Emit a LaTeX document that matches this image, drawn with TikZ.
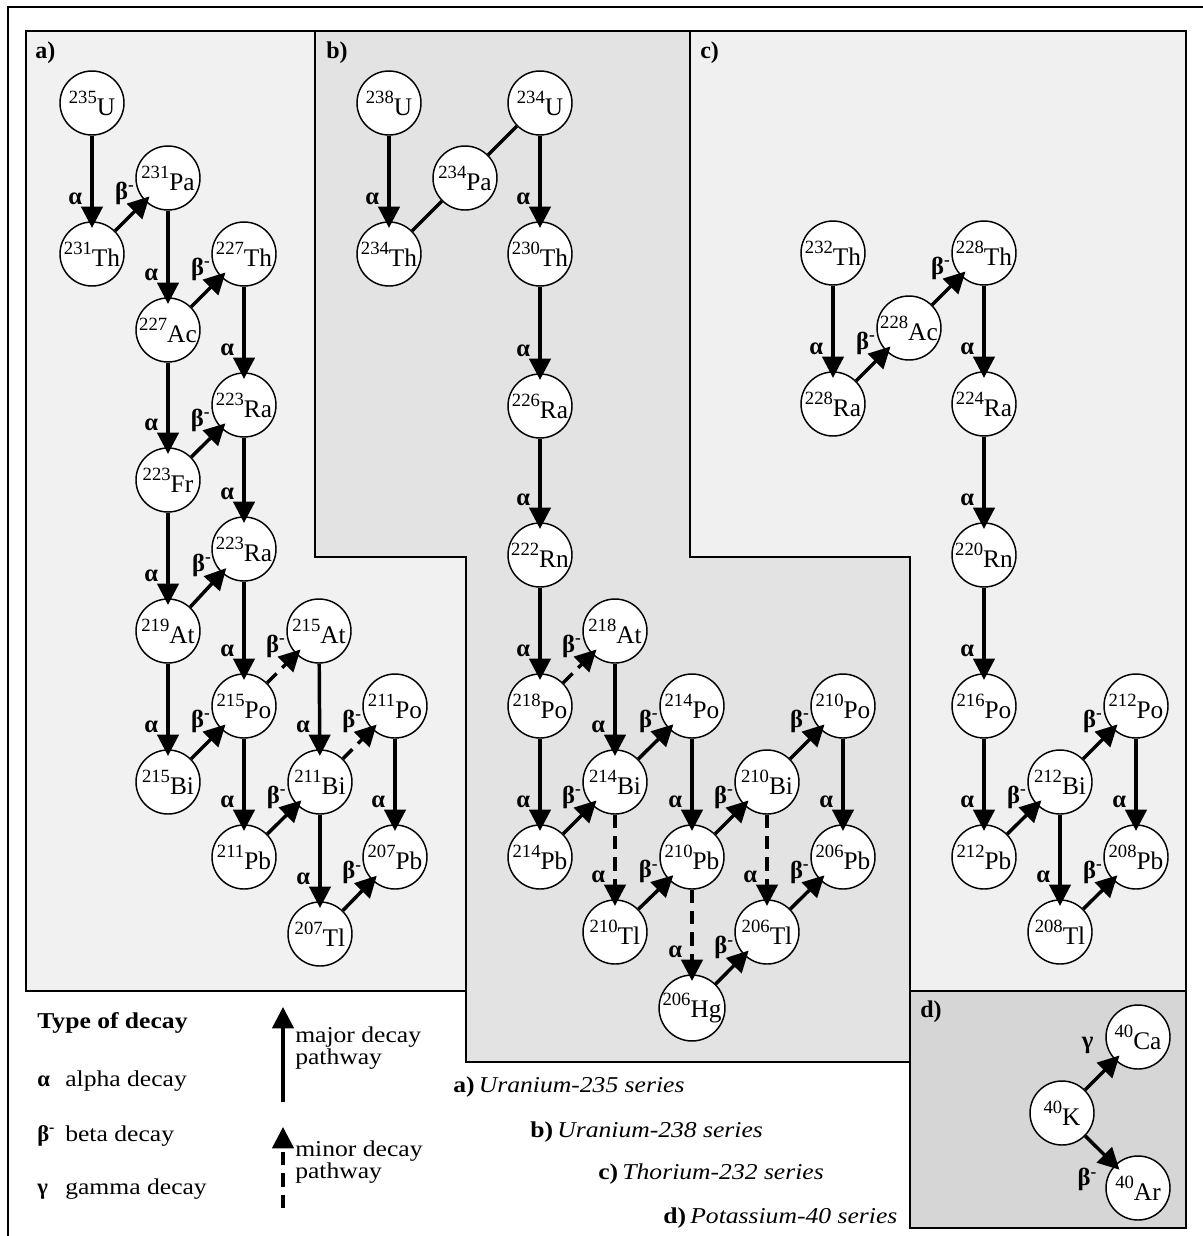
\documentclass[tikz,border=0pt]{standalone}
\usepackage{fontspec}
\setmainfont{Liberation Serif}
\usetikzlibrary{arrows.meta,calc}
\definecolor{pa}{HTML}{F1F1F1}
\definecolor{pb}{HTML}{E3E3E3}
\definecolor{pc}{HTML}{F0F0F0}
\definecolor{pd}{HTML}{D6D6D6}
\newcommand\iso[2]{\raisebox{9pt}{\fontsize{14}{14}\selectfont#1}#2}
\newcommand\bet{β\textsuperscript{-}}
\newcommand\wide[1]{\scalebox{1.13}[1]{#1}}
\begin{document}
\begin{tikzpicture}[x=0.75pt,y=-0.75pt,
 nuc/.style={circle,draw,fill=white,line width=1.1pt,minimum size=48pt,inner sep=0pt,font=\fontsize{19}{19}\selectfont},
 arr/.style={line width=2.6pt,-{Triangle[length=16pt,width=16pt]},shorten >=-5pt},
 minor/.style={arr,dash pattern=on 10pt off 6pt},
 plainline/.style={line width=2.6pt},
 lab/.style={font=\bfseries\fontsize{18.5}{18}\selectfont,inner sep=0pt},
 la/.style={lab,pos=1,xshift=-12.5pt,yshift=17pt},
 lb/.style={lab,pos=1,xshift=-15pt,yshift=6pt},
 lg/.style={lab,pos=1,xshift=-20.5pt,yshift=11pt},
 ld/.style={lab,pos=1,xshift=-20.5pt,yshift=-11pt},
 panel/.style={draw,line width=1.1pt},
 plab/.style={font=\bfseries\fontsize{18}{18}\selectfont,anchor=base west,inner sep=0pt},
 legtxt/.style={font=\fontsize{17}{17}\selectfont,anchor=base west,inner sep=0pt},
 legsym/.style={font=\bfseries\fontsize{17}{17}\selectfont,anchor=base west,inner sep=0pt},
 sertxt/.style={font=\fontsize{17}{17}\selectfont,anchor=base west,inner sep=0pt},
]
\useasboundingbox (0,0) rectangle (1203,1236);
\clip (0,0) rectangle (1203,1236);
\fill[white] (0,0) rectangle (1203,1236);
% outer frame
\draw[line width=2.2pt] (8,1300) -- (8,7) -- (1300,7);
% panels
\draw[panel,fill=pa] (26,31) -- (315,31) -- (315,557) -- (466,557) -- (466,991) -- (26,991) -- cycle;
\draw[panel,fill=pb] (315,31) -- (690,31) -- (690,557) -- (910,557) -- (910,1062) -- (466,1062) -- (466,557) -- (315,557) -- cycle;
\draw[panel,fill=pc] (690,31) -- (1186,31) -- (1186,991) -- (910,991) -- (910,557) -- (690,557) -- cycle;
\draw[panel,fill=pd] (910,991) -- (1186,991) -- (1186,1228) -- (910,1228) -- cycle;
\node[plab] (pla) at (35,58) {a)};
\node[plab] (plb) at (326,58) {b)};
\node[plab] (plc) at (700,58) {c)};
\node[plab] (pld) at (920,1017) {d)};
% panel a nodes
\node[nuc] (U235) at (92,103) {\iso{235}{U}};
\node[nuc] (Th231) at (92,254) {\iso{231}{Th}};
\node[nuc] (Pa231) at (168,178) {\iso{231}{Pa}};
\node[nuc] (Th227) at (244,254) {\iso{227}{Th}};
\node[nuc] (Ac227) at (168,330) {\iso{227}{Ac}};
\node[nuc] (Ra223a) at (244,405) {\iso{223}{Ra}};
\node[nuc] (Fr223) at (168,480) {\iso{223}{Fr}};
\node[nuc] (Ra223b) at (244,549) {\iso{223}{Ra}};
\node[nuc] (At219) at (168,631) {\iso{219}{At}};
\node[nuc] (At215) at (319,631) {\iso{215}{At}};
\node[nuc] (Po215) at (244,706) {\iso{215}{Po}};
\node[nuc] (Bi215) at (168,782) {\iso{215}{Bi}};
\node[nuc] (Po211) at (395,706) {\iso{211}{Po}};
\node[nuc] (Bi211) at (320,782) {\iso{211}{Bi}};
\node[nuc] (Pb211) at (244,857) {\iso{211}{Pb}};
\node[nuc] (Pb207) at (395,857) {\iso{207}{Pb}};
\node[nuc] (Tl207) at (320,934) {\iso{207}{Tl}};
% panel b nodes
\node[nuc] (U238) at (389,103) {\iso{238}{U}};
\node[nuc] (U234) at (540,103) {\iso{234}{U}};
\node[nuc] (Pa234) at (465,178) {\iso{234}{Pa}};
\node[nuc] (Th234) at (389,254) {\iso{234}{Th}};
\node[nuc] (Th230) at (540,254) {\iso{230}{Th}};
\node[nuc] (Ra226) at (540,406) {\iso{226}{Ra}};
\node[nuc] (Rn222) at (540,555) {\iso{222}{Rn}};
\node[nuc] (At218) at (615,631) {\iso{218}{At}};
\node[nuc] (Po218) at (540,706) {\iso{218}{Po}};
\node[nuc] (Bi214) at (615,782) {\iso{214}{Bi}};
\node[nuc] (Po214) at (692,706) {\iso{214}{Po}};
\node[nuc] (Pb214) at (540,857) {\iso{214}{Pb}};
\node[nuc] (Bi210) at (767,782) {\iso{210}{Bi}};
\node[nuc] (Po210) at (843,706) {\iso{210}{Po}};
\node[nuc] (Pb210) at (692,857) {\iso{210}{Pb}};
\node[nuc] (Pb206) at (843,857) {\iso{206}{Pb}};
\node[nuc] (Tl210) at (615,932) {\iso{210}{Tl}};
\node[nuc] (Tl206) at (767,932) {\iso{206}{Tl}};
\node[nuc] (Hg206) at (692,1008) {\iso{206}{Hg}};
% panel c nodes
\node[nuc] (Th232) at (833,253) {\iso{232}{Th}};
\node[nuc] (Th228) at (984,253) {\iso{228}{Th}};
\node[nuc] (Ac228) at (909,328) {\iso{228}{Ac}};
\node[nuc] (Ra228) at (833,404) {\iso{228}{Ra}};
\node[nuc] (Ra224) at (984,404) {\iso{224}{Ra}};
\node[nuc] (Rn220) at (984,555) {\iso{220}{Rn}};
\node[nuc] (Po216) at (984,706) {\iso{216}{Po}};
\node[nuc] (Pb212) at (984,857) {\iso{212}{Pb}};
\node[nuc] (Bi212) at (1060,782) {\iso{212}{Bi}};
\node[nuc] (Po212) at (1136,706) {\iso{212}{Po}};
\node[nuc] (Pb208) at (1136,857) {\iso{208}{Pb}};
\node[nuc] (Tl208) at (1060,932) {\iso{208}{Tl}};
% panel d nodes
\node[nuc] (Ca40) at (1138,1037) {\iso{40}{Ca}};
\node[nuc] (K40) at (1062,1113) {\iso{40}{K}};
\node[nuc] (Ar40) at (1138,1188) {\iso{40}{Ar}};
% panel a edges
\draw[arr] (U235) -- node[la] (a1) {α} (Th231);
\draw[arr] (Th231) -- node[lb] (a2) {\bet} (Pa231);
\draw[arr] (Pa231) -- node[la] (a3) {α} (Ac227);
\draw[arr] (Ac227) -- node[lb] (a4) {\bet} (Th227);
\draw[arr] (Th227) -- node[la] (a5) {α} (Ra223a);
\draw[arr] (Ac227) -- node[la] (a6) {α} (Fr223);
\draw[arr] (Fr223) -- node[lb] (a7) {\bet} (Ra223a);
\draw[arr] (Ra223a) -- node[la] (a8) {α} (Ra223b);
\draw[arr] (Fr223) -- node[la] (a9) {α} (At219);
\draw[arr] (At219) -- node[lb] (a10) {\bet} (Ra223b);
\draw[arr] (Ra223b) -- node[la] (a11) {α} (Po215);
\draw[arr] (At219) -- node[la] (a12) {α} (Bi215);
\draw[arr] (Bi215) -- node[lb] (a13) {\bet} (Po215);
\draw[minor] (Po215) -- node[lb] (a14) {\bet} (At215);
\draw[arr] (Po215) -- node[la] (a15) {α} (Pb211);
\draw[arr] (At215) -- node[la] (a16) {α} (Bi211);
\draw[arr] (Pb211) -- node[lb] (a17) {\bet} (Bi211);
\draw[minor] (Bi211) -- node[lb] (a18) {\bet} (Po211);
\draw[arr] (Bi211) -- node[la] (a19) {α} (Tl207);
\draw[arr] (Po211) -- node[la] (a20) {α} (Pb207);
\draw[arr] (Tl207) -- node[lb] (a21) {\bet} (Pb207);
% panel b edges
\draw[arr] (U238) -- node[la] (b1) {α} (Th234);
\draw[plainline] (Th234) -- (Pa234);
\draw[plainline] (Pa234) -- (U234);
\draw[arr] (U234) -- node[la] (b2) {α} (Th230);
\draw[arr] (Th230) -- node[la] (b3) {α} (Ra226);
\draw[arr] (Ra226) -- node[la] (b4) {α} (Rn222);
\draw[arr] (Rn222) -- node[la] (b5) {α} (Po218);
\draw[minor] (Po218) -- node[lb] (b6) {\bet} (At218);
\draw[arr] (Po218) -- node[la] (b7) {α} (Pb214);
\draw[arr] (At218) -- node[la] (b8) {α} (Bi214);
\draw[arr] (Pb214) -- node[lb] (b9) {\bet} (Bi214);
\draw[arr] (Bi214) -- node[lb] (b10) {\bet} (Po214);
\draw[minor] (Bi214) -- node[la] (b11) {α} (Tl210);
\draw[arr] (Po214) -- node[la] (b12) {α} (Pb210);
\draw[arr] (Tl210) -- node[lb] (b13) {\bet} (Pb210);
\draw[arr] (Pb210) -- node[lb] (b14) {\bet} (Bi210);
\draw[minor] (Pb210) -- node[la] (b15) {α} (Hg206);
\draw[arr] (Bi210) -- node[lb] (b16) {\bet} (Po210);
\draw[minor] (Bi210) -- node[la] (b17) {α} (Tl206);
\draw[arr] (Po210) -- node[la] (b18) {α} (Pb206);
\draw[arr] (Hg206) -- node[lb] (b19) {\bet} (Tl206);
\draw[arr] (Tl206) -- node[lb] (b20) {\bet} (Pb206);
% panel c edges
\draw[arr] (Th232) -- node[la] (c1) {α} (Ra228);
\draw[arr] (Ra228) -- node[lb] (c2) {\bet} (Ac228);
\draw[arr] (Ac228) -- node[lb] (c3) {\bet} (Th228);
\draw[arr] (Th228) -- node[la] (c4) {α} (Ra224);
\draw[arr] (Ra224) -- node[la] (c5) {α} (Rn220);
\draw[arr] (Rn220) -- node[la] (c6) {α} (Po216);
\draw[arr] (Po216) -- node[la] (c7) {α} (Pb212);
\draw[arr] (Pb212) -- node[lb] (c8) {\bet} (Bi212);
\draw[arr] (Bi212) -- node[lb] (c9) {\bet} (Po212);
\draw[arr] (Bi212) -- node[la] (c10) {α} (Tl208);
\draw[arr] (Po212) -- node[la] (c11) {α} (Pb208);
\draw[arr] (Tl208) -- node[lb] (c12) {\bet} (Pb208);
% panel d edges
\draw[arr] (K40) -- node[lg] (d1) {γ} (Ca40);
\draw[arr] (K40) -- node[ld] (d2) {\bet} (Ar40);
% legend
\node[legsym] (ltitle) at (37,1028) {\wide{Type of decay}};
\node[legsym] (lsa) at (37,1086) {α};
\node[legtxt] (lta) at (65,1086) {\wide{alpha decay}};
\node[legsym] (lsb) at (37,1141) {\bet};
\node[legtxt] (ltb) at (65,1141) {\wide{beta decay}};
\node[legsym] (lsg) at (37,1194) {γ};
\node[legtxt] (ltg) at (65,1194) {\wide{gamma decay}};
\coordinate (m1) at (283,1102);
\coordinate (m2) at (283,1007);
\draw[arr,shorten >=0pt] (m1) -- (m2);
\node[legtxt] (lmaj1) at (295,1042) {\wide{major decay}};
\node[legtxt] (lmaj2) at (295,1064) {\wide{pathway}};
\coordinate (n1) at (283,1208);
\coordinate (n2) at (283,1127);
\draw[minor,shorten >=0pt] (n1) -- (n2);
\node[legtxt] (lmin1) at (295,1156) {\wide{minor decay}};
\node[legtxt] (lmin2) at (295,1178) {\wide{pathway}};
% series
\node[sertxt] (sa) at (453,1092) {\wide{\textbf{a)}\,\textit{Uranium-235 series}}};
\node[sertxt] (sb) at (530,1137) {\wide{\textbf{b)}\,\textit{Uranium-238 series}}};
\node[sertxt] (sc) at (598,1179) {\wide{\textbf{c)}\,\textit{Thorium-232 series}}};
\node[sertxt] (sd) at (663,1223) {\wide{\textbf{d)}\,\textit{Potassium-40 series}}};
\end{tikzpicture}
\end{document}
